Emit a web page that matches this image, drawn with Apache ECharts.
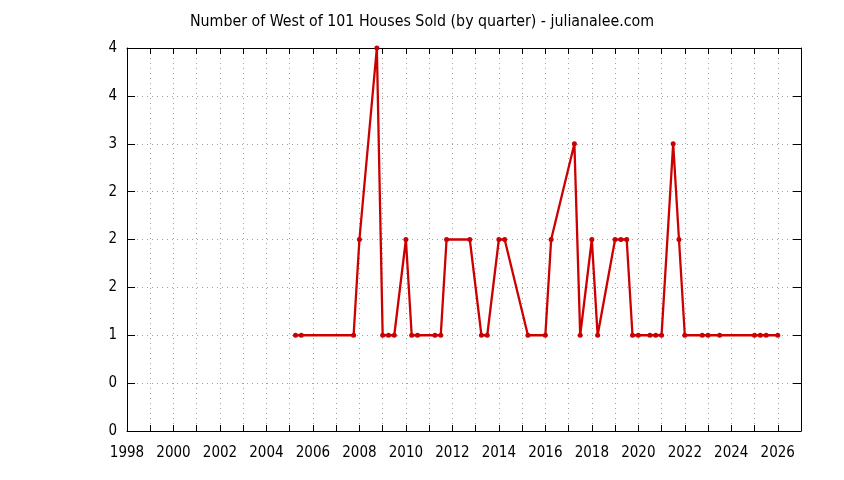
<!DOCTYPE html>
<html>
<head>
<meta charset="utf-8">
<script src="https://cdn.jsdelivr.net/npm/echarts@6/dist/echarts.min.js"></script>
<style>html,body{margin:0;padding:0;background:#fff}#c{width:844px;height:480px}</style>
</head>
<body>
<div id="c"></div>
<script>
// Quarter start (decimal year) and number of houses sold
const quarters = [2005.25, 2005.5, 2007.75, 2008.0, 2008.75, 2009.0, 2009.25, 2009.5, 2010.0, 2010.25,
  2010.5, 2011.25, 2011.5, 2011.75, 2012.75, 2013.25, 2013.5, 2014.0, 2014.25, 2015.25,
  2016.0, 2016.25, 2017.25, 2017.5, 2018.0, 2018.25, 2019.0, 2019.25, 2019.5, 2019.75,
  2020.0, 2020.5, 2020.75, 2021.0, 2021.5, 2021.75, 2022.0, 2022.75, 2023.0, 2023.5,
  2025.0, 2025.25, 2025.5, 2026.0];
const sold = [1, 1, 1, 2, 4, 1, 1, 1, 2, 1,
  1, 1, 1, 2, 2, 1, 1, 2, 2, 1,
  1, 2, 3, 1, 2, 1, 2, 2, 2, 1,
  1, 1, 1, 1, 3, 2, 1, 1, 1, 1,
  1, 1, 1, 1];
const xTickLabels = ['1998','2000','2002','2004','2006','2008','2010','2012','2014','2016','2018','2020','2022','2024','2026'];
const yTickValues = [0, 0.5, 1, 1.5, 2, 2.5, 3, 3.5, 4];
const yTickLabels = ['0','0','1','2','2','2','3','4','4'];
const titleText = 'Number of West of 101 Houses Sold (by quarter) - julianalee.com';

const FONT = '"DejaVu Sans Condensed", "DejaVu Sans", sans-serif';
const chart = echarts.init(document.getElementById('c'));
const gridLine = {show: true, lineStyle: {color: '#a0a0a0', type: [1, 4], width: 1}};
const axisLine = {show: true, onZero: false, lineStyle: {color: '#000', width: 1}};
chart.setOption({
  animation: false,
  backgroundColor: '#fff',
  title: {text: titleText, left: 'center', top: 9,
    textStyle: {fontFamily: FONT, fontSize: 15.8, fontWeight: 'normal', color: '#000'}},
  grid: {left: 127, right: 43, top: 48, bottom: 49, containLabel: false},
  xAxis: [{
    type: 'value', min: 1998, max: 2027, interval: 1, position: 'bottom',
    axisLine: axisLine,
    axisTick: {show: true, inside: true, length: 6, lineStyle: {color: '#000'}},
    splitLine: gridLine,
    axisLabel: {margin: 15, fontFamily: FONT, fontSize: 15, color: '#000',
      showMaxLabel: false,
      formatter: v => { const s = String(Math.round(v)); return xTickLabels.includes(s) ? s : ''; }}
  }, {
    type: 'value', min: 1998, max: 2027, interval: 1, position: 'top',
    axisLine: axisLine,
    axisTick: {show: true, inside: true, length: 6, lineStyle: {color: '#000'}},
    splitLine: {show: false}, axisLabel: {show: false}
  }],
  yAxis: [{
    type: 'value', min: 0, max: 4, interval: 0.5, position: 'left',
    axisLine: axisLine,
    axisTick: {show: true, inside: true, length: 8, lineStyle: {color: '#000'}},
    splitLine: gridLine,
    axisLabel: {margin: 10, fontFamily: FONT, fontSize: 15, color: '#000',
      formatter: v => { const i = yTickValues.indexOf(Math.round(v * 2) / 2); return i >= 0 ? yTickLabels[i] : ''; }}
  }, {
    type: 'value', min: 0, max: 4, interval: 0.5, position: 'right',
    axisLine: axisLine,
    axisTick: {show: true, inside: true, length: 8, lineStyle: {color: '#000'}},
    splitLine: {show: false}, axisLabel: {show: false}
  }],
  series: [{
    type: 'line', xAxisIndex: 0, yAxisIndex: 0,
    data: quarters.map((q, i) => [q, sold[i]]),
    symbol: 'circle', symbolSize: 5, showSymbol: true,
    lineStyle: {color: '#cc0000', width: 2.3},
    itemStyle: {color: '#cc0000'}
  }]
});
</script>
</body>
</html>
